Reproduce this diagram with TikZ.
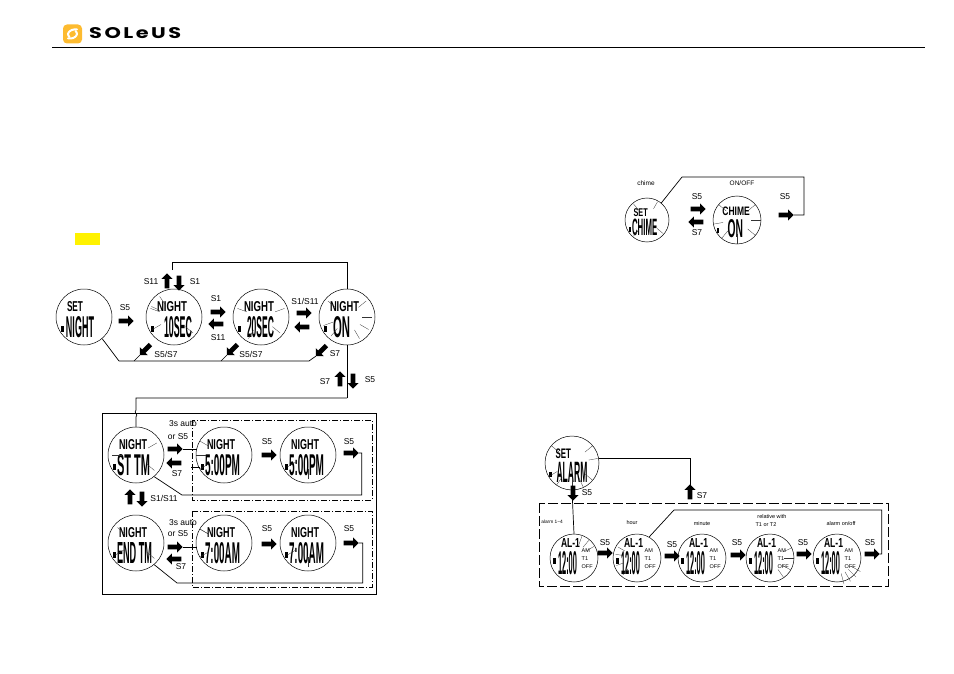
\documentclass[tikz,border=0pt]{standalone}
\usepackage{graphicx, xcolor}
\usepackage{fontspec}
\setmainfont{Liberation Sans}
\newfontfamily\logofont{Poppins}
\usepackage{tikz}
\usetikzlibrary{calc,arrows.meta,shapes.arrows}
\definecolor{logoyellow}{HTML}{FDBB30}

\tikzset{
  wire/.style={line width=0.7pt},
  rayline/.style={line width=0.3pt, black!80},
  watchface/.style={draw, circle, line width=0.5pt, inner sep=0pt},
  lcd/.style={inner sep=0pt, outer sep=0pt, font=\fontsize{6}{7}\selectfont\bfseries},
  barrow/.style={single arrow, fill=black, inner xsep=0pt, inner ysep=2.2pt, outer sep=0pt,
    minimum height=15pt, single arrow head extend=3.2pt, single arrow head indent=0pt},
  lab/.style={inner sep=0pt, font=\fontsize{8.5}{9}\selectfont},
  tinylab/.style={inner sep=0pt, font=\fontsize{5.5}{6}\selectfont},
  smalllab/.style={inner sep=0pt, font=\fontsize{6.5}{7}\selectfont},
}

% name, x, y, radius, top text, top width, big text, big left edge, big width
\newcommand{\watch}[9]{
  \pgfmathsetmacro\k{#4/28}
  \pgfmathsetlengthmacro\wtop{#6*\k}
  \pgfmathsetlengthmacro\wbig{#9*\k}
  \pgfmathsetlengthmacro\htop{10*\k}
  \pgfmathsetlengthmacro\hbig{21*\k}
  \node[watchface, minimum size=2*#4] (#1) at (#2,#3) {};
  \node[lcd, anchor=west] (#1top) at ($(#1)+(-17*\k,-10*\k)$) {\resizebox{\wtop}{\htop}{#5}};
  \node[lcd, anchor=west] (#1big) at ($(#1)+(#8*\k,10*\k)$) {\resizebox{\wbig}{\hbig}{#7}};
  \node[fill=black, minimum width=3*\k, minimum height=6*\k, inner sep=0pt] (#1bat) at ($(#1)+(-22*\k,12*\k)$) {};
}
% name, x, y, small line 1, small line 2, small line 3
\newcommand{\alarmwatch}[6]{
  \node[watchface, minimum size=48] (#1) at (#2,#3) {};
  \node[lcd, anchor=west] (#1top) at ($(#1)+(-13,-15)$) {\resizebox{19pt}{9pt}{AL-1}};
  \node[lcd, anchor=west] (#1big) at ($(#1)+(-16,5)$) {\resizebox{19pt}{23pt}{12:00}};
  \node[fill=black, minimum width=3, minimum height=6, inner sep=0pt] (#1bat) at ($(#1)+(-20,3)$) {};
  \node[tinylab, anchor=west] (#1a) at ($(#1)+(7.5,-7)$) {#4};
  \node[tinylab, anchor=west] (#1b) at ($(#1)+(7.5,1)$) {#5};
  \node[tinylab, anchor=west] (#1c) at ($(#1)+(7.5,9)$) {#6};
}
% flashing marks round a watch: name, angles, inner and outer distance
\newcommand{\rays}[4]{
  \foreach \a in {#2} \draw[rayline] ($(#1)+(\a:#3)$) -- ($(#1)+(\a:#4)$);
}

\begin{document}
\begin{tikzpicture}[x=1pt,y=-1pt]
\useasboundingbox (0,0) rectangle (954,674);

% header
\node[fill=logoyellow, rounded corners=4, minimum width=19, minimum height=19, inner sep=0pt] (logo) at (72.5,34) {};
\draw[white, line width=2pt, line cap=round, rounded corners=2.5pt] (77,29.5) -- (71.5,29.5) -- (67,34) -- (69.5,37);
\draw[white, line width=2pt, line cap=round, rounded corners=2.5pt] (68,38.5) -- (73.5,38.5) -- (78,34) -- (75.5,31);
\node[inner sep=0pt, anchor=west] (brand) at (89,33.5) {\resizebox{92pt}{11pt}{\logofont\bfseries\addfontfeature{LetterSpace=12}SOLeUS}};
\draw[wire] (52,47) -- (925,47);
\node[fill=yellow, minimum width=25, minimum height=12, inner sep=0pt] (mark) at (87.5,239) {};

% night light settings
\watch{setnight}{84}{317}{28}{SET}{16}{NIGHT}{-18}{28}
\watch{nightten}{174}{317}{28}{NIGHT}{30}{10SEC}{-10}{28}
\watch{nighttwenty}{261}{317}{28}{NIGHT}{30}{20SEC}{-14}{27}
\watch{nighton}{347}{317}{28}{NIGHT}{29}{ON}{-14}{17}
\rays{nightten}{-155,150,200,235,40}{15}{25}
\rays{nighttwenty}{120,200,-20,40}{15}{25}
\rays{nighton}{-140,-40,160,130,60,30,0}{15}{25}

\node[barrow] (a1) at (125,321) {};
\node[barrow] (a2) at (217,312) {};
\node[barrow, rotate=180] (a3) at (217,324) {};
\node[barrow] (a4) at (303,313) {};
\node[barrow, rotate=180] (a5) at (303,327) {};
\node[barrow, rotate=90] (a6) at (167,282) {};
\node[barrow, rotate=-90] (a7) at (179,282) {};
\node[barrow, rotate=225] (a8) at (146,349) {};
\node[barrow, rotate=225] (a9) at (233,349) {};
\node[barrow, rotate=225] (a10) at (322,350) {};
\node[barrow, rotate=90] (a11) at (340,380) {};
\node[barrow, rotate=-90] (a12) at (353,380) {};

\node[lab] (l1) at (125,308) {S5};
\node[lab] (l2) at (216,299) {S1};
\node[lab] (l3) at (218,338) {S11};
\node[lab] (l4) at (305,301) {S1/S11};
\node[lab] (l5) at (151,282) {S11};
\node[lab] (l6) at (195,282) {S1};
\node[lab] (l7) at (166,354) {S5/S7};
\node[lab] (l8) at (251,354) {S5/S7};
\node[lab] (l9) at (335,354) {S7};
\node[lab] (l10) at (325,382) {S7};
\node[lab] (l11) at (370,380) {S5};

\coordinate (topstart) at (172,270);
\coordinate (toprun) at (347,262);
\coordinate (lowleft) at (119,361);
\coordinate (lowright) at (309,361);
\coordinate (drop) at (347,398);
\draw[wire] (topstart) |- (toprun) -- (nighton.north);
\draw[wire] (setnight.-50) -- (lowleft) -- (lowright) -- (a10.tip);
\draw[wire] (a8.tip) -- ($(lowleft)+(15,0)$);
\draw[wire] (a9.tip) -- ($(lowleft)+(102,0)$);
\draw[wire] (nighton.south) -- (drop);

% start and end time
\draw[wire] (102,413) rectangle (376,594);
\draw[line width=0.6pt, dash pattern=on 6pt off 2pt on 1pt off 2pt] (192,420) rectangle (372,500);
\draw[line width=0.6pt, dash pattern=on 6pt off 2pt on 1pt off 2pt] (192,511) rectangle (372,587);

\watch{sttm}{136}{455}{28}{NIGHT}{28}{ST TM}{-19}{33}
\watch{starttime}{224}{455}{28}{NIGHT}{28}{5:00PM}{-19}{35}
\watch{startmin}{308}{455}{28}{NIGHT}{28}{5:00PM}{-19}{35}
\watch{endtm}{136}{543}{28}{NIGHT}{28}{END TM}{-19}{35}
\watch{endtime}{224}{543}{28}{NIGHT}{28}{7:00AM}{-19}{35}
\watch{endmin}{308}{543}{28}{NIGHT}{28}{7:00AM}{-19}{35}
\rays{sttm}{180,40,-30}{14}{24}
\rays{starttime}{150,180,210}{18}{28}
\rays{startmin}{90,150}{14}{24}
\rays{endtm}{150,40,-140}{14}{24}
\rays{endtime}{150,-150,210}{18}{28}
\rays{endmin}{90,150}{14}{24}

\node[barrow] (b1) at (174,449) {};
\node[barrow, rotate=180] (b2) at (175,463) {};
\node[barrow] (b3) at (268,455) {};
\node[barrow] (b4) at (350,453) {};
\node[barrow, rotate=90] (b5) at (130,498) {};
\node[barrow, rotate=-90] (b6) at (142,498) {};
\node[barrow] (b7) at (174,547) {};
\node[barrow, rotate=180] (b8) at (175,559) {};
\node[barrow] (b9) at (268,544) {};
\node[barrow] (b10) at (350,543) {};

\node[lab] (m1) at (183,424) {3s auto};
\node[lab] (m2) at (178,437) {or S5};
\node[lab] (m3) at (177,474) {S7};
\node[lab] (m4) at (267,442) {S5};
\node[lab] (m5) at (349,442) {S5};
\node[lab] (m6) at (164,498) {S1/S11};
\node[lab] (m7) at (183,523) {3s auto};
\node[lab] (m8) at (178,534) {or S5};
\node[lab] (m9) at (181,567) {S7};
\node[lab] (m10) at (267,529) {S5};
\node[lab] (m11) at (349,529) {S5};

\coordinate (startloop) at (182,495);
\coordinate (endloop) at (177,583);
\coordinate (stturn) at (136,398);
\draw[wire] (drop) -- (stturn) -- ++(0,12) .. controls ++(-3,3) and ++(3,-3) .. ++(0,7) -- (sttm.north);
\draw[wire] (b1.tip) -- ++(14,0);
\draw[wire] (starttimebat.west) -- ++(-9,0);
\draw[wire] (b4.tip) -- ++(3,0) |- (startloop) -- (sttm.-50);
\draw[wire] (b7.tip) -- ++(14,0);
\draw[wire] (b10.tip) -- ++(4,0) |- (endloop) -- (endtm.-50);

% alarm
\watch{setalarm}{572}{463}{27}{SET}{16}{ALARM}{-16}{32}
\rays{setalarm}{-140,-40,-10,40,65,90,125,150}{17}{27}
\draw[wire, dash pattern=on 10pt off 3pt] (539,503) rectangle (888,586);

\alarmwatch{alone}{574}{558}{AM}{T1}{OFF}
\alarmwatch{altwo}{637}{558}{AM}{T1}{OFF}
\alarmwatch{althree}{702}{558}{AM}{T1}{OFF}
\alarmwatch{alfour}{770}{558}{AM}{T1}{OFF}
\alarmwatch{alfive}{837}{558}{AM}{T1}{OFF}
\rays{alone}{-70,-50,-30}{14}{23}
\rays{altwo}{160,190,210,130}{14}{22}
\rays{alfour}{-25,0,30,55}{14}{24}
\rays{alfive}{30,45,60,75}{16}{27}

\node[barrow, rotate=-90] (c1) at (573,492) {};
\node[barrow, rotate=90] (c2) at (690,493) {};
\node[barrow] (c3) at (604,553) {};
\node[barrow] (c4) at (671,556) {};
\node[barrow] (c5) at (737,555) {};
\node[barrow] (c6) at (803,554) {};
\node[barrow] (c7) at (871,554) {};

\node[lab] (n1) at (587,493) {S5};
\node[lab] (n2) at (702,496) {S7};
\node[lab] (n3) at (605,543) {S5};
\node[lab] (n4) at (672,545) {S5};
\node[lab] (n5) at (737,543) {S5};
\node[lab] (n6) at (803,543) {S5};
\node[lab] (n7) at (870,543) {S5};
\node[inner sep=0pt, font=\fontsize{4.8}{5}\selectfont] (n8) at (552,522) {alarm 1\textasciitilde 4};
\node[tinylab] (n9) at (632,523) {hour};
\node[tinylab] (n10) at (702,524) {minute};
\node[tinylab] (n11) at (772,517) {relative with};
\node[tinylab] (n12) at (766,525) {T1 or T2};
\node[tinylab] (n13) at (841,524) {alarm on/off};

\coordinate (alarmtop) at (674,510);
\draw[wire] (setalarm.south) -- (alone.north);
\draw[wire] (setalarm.10) -| (c2.tail);
\draw[wire] (c7.tip) -- ++(2,0) |- (alarmtop) -- (altwo.60);

% chime
\watch{setchime}{647}{220}{22}{SET}{18}{CHIME}{-19}{32}
\watch{chimeon}{737}{220}{24}{CHIME}{32}{ON}{-11}{18}
\rays{setchime}{-130,-60,40,130}{13}{21}
\rays{chimeon}{-140,-40,0,40,90,130,170}{14}{24}

\node[barrow] (d1) at (697,209) {};
\node[barrow, rotate=180] (d2) at (697,222) {};
\node[barrow] (d3) at (785,215) {};
\node[lab] (e1) at (697,197) {S5};
\node[lab] (e2) at (697,233) {S7};
\node[lab] (e3) at (785,197) {S5};
\node[smalllab] (e4) at (646,183) {chime};
\node[smalllab] (e5) at (742,183) {ON/OFF};

\coordinate (chimetop) at (682,177);
\coordinate (chimeright) at (804,177);
\draw[wire] (setchime.50) -- (chimetop) -- (chimeright) |- (d3.tip);
\end{tikzpicture}
\end{document}
